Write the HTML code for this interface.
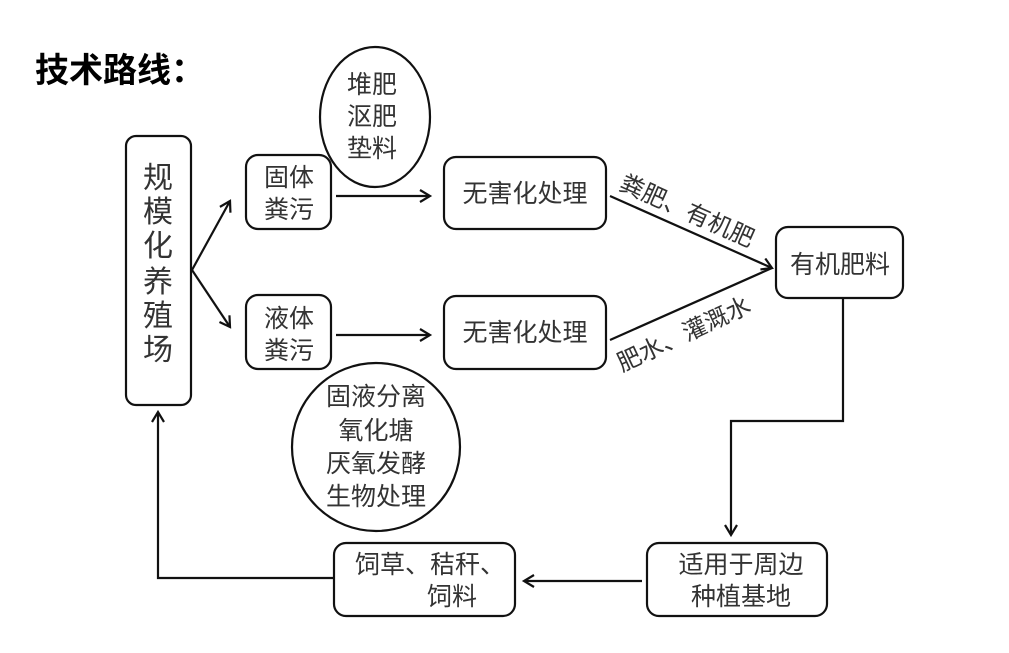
<!DOCTYPE html>
<html><head><meta charset="utf-8"><style>
html,body{margin:0;padding:0;background:#fff;}
svg{display:block;}
text{font-family:"Liberation Sans","Noto Sans CJK SC",sans-serif;fill:#333;}
</style></head><body>
<svg width="1009" height="653" viewBox="0 0 1009 653" xmlns="http://www.w3.org/2000/svg">
<defs>
<marker id="a" markerWidth="14" markerHeight="14" refX="11" refY="7" orient="auto" markerUnits="userSpaceOnUse">
<path d="M1,1 L11,7 L1,13" fill="none" stroke="#111" stroke-width="2.2"/>
</marker>
</defs>
<text x="35" y="82" font-size="34" style="fill:#000;font-weight:bold">技术路线：</text>
<g fill="none" stroke="#111" stroke-width="2.2">
<rect x="126" y="136" width="65" height="269" rx="10"/>
<rect x="246" y="155" width="85" height="74" rx="12"/>
<rect x="246" y="295" width="85" height="74" rx="12"/>
<rect x="444" y="157" width="162" height="72" rx="12"/>
<rect x="444" y="296" width="162" height="73" rx="12"/>
<rect x="776" y="227" width="127" height="71" rx="12"/>
<rect x="647" y="543" width="180" height="73" rx="12"/>
<rect x="334" y="543" width="181" height="73" rx="12"/>
<ellipse cx="375" cy="117" rx="55" ry="70"/>
<circle cx="376" cy="447" r="84"/>
<line x1="192" y1="270" x2="230" y2="201" marker-end="url(#a)"/>
<line x1="192" y1="270" x2="230" y2="327" marker-end="url(#a)"/>
<line x1="336" y1="196" x2="430" y2="196" marker-end="url(#a)"/>
<line x1="336" y1="335" x2="430" y2="335" marker-end="url(#a)"/>
<line x1="610" y1="196" x2="772" y2="268" marker-end="url(#a)"/>
<line x1="610" y1="340" x2="772" y2="268"/>
<polyline points="843,298 843,421 731,421 731,535" marker-end="url(#a)"/>
<line x1="642" y1="581" x2="524" y2="581" marker-end="url(#a)"/>
<polyline points="334,578 158,578 158,412" marker-end="url(#a)"/>
</g>
<g font-size="30" text-anchor="middle">
<text x="158" y="188">规</text><text x="158" y="222">模</text><text x="158" y="256">化</text>
<text x="158" y="292">养</text><text x="158" y="326">殖</text><text x="158" y="360">场</text>
</g>
<g font-size="25" text-anchor="middle">
<text x="289" y="186">固体</text><text x="289" y="218">粪污</text>
<text x="289" y="327">液体</text><text x="289" y="359">粪污</text>
<text x="525" y="202">无害化处理</text>
<text x="525" y="341">无害化处理</text>
<text x="840" y="273">有机肥料</text>
<text x="741" y="573">适用于周边</text><text x="741" y="605">种植基地</text>
<text x="430" y="573">饲草、秸秆、</text><text x="452" y="605">饲料</text>
<text x="372" y="93">堆肥</text><text x="372" y="125">沤肥</text><text x="372" y="157">垫料</text>
<text x="376" y="405">固液分离</text><text x="376" y="439">氧化塘</text>
<text x="376" y="472">厌氧发酵</text><text x="376" y="505">生物处理</text>
</g>
<text font-size="24" transform="translate(618,189) rotate(24)">粪肥、有机肥</text>
<text font-size="24" transform="translate(622,372) rotate(-25)">肥水、灌溉水</text>
</svg>
</body></html>
